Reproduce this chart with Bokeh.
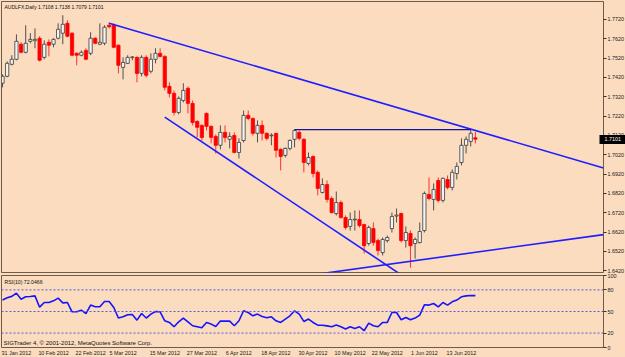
from bokeh.plotting import figure
from bokeh.layouts import column
from bokeh.models import (ColumnDataSource, FixedTicker, Range1d, Label, Span,
                          NumeralTickFormatter, LinearAxis)
from bokeh.embed import file_html
from bokeh.resources import INLINE

# ---------------- data ----------------
symbol_title = "AUDLFX,Daily  1.7108 1.7138 1.7079 1.7101"
rsi_title = "RSI(10) 72.0466"
copyright_text = "SIGTrader 4, \u00a9 2001-2012, MetaQuotes Software Corp."
last_price = 1.7101

opens = [1.7390, 1.7426, 1.7488, 1.7514, 1.7592, 1.7550, 1.7607, 1.7610, 1.7623, 1.7524,
         1.7602, 1.7592, 1.7623, 1.7649, 1.7700, 1.7649, 1.7545, 1.7535, 1.7560, 1.7545,
         1.7623, 1.7592, 1.7597, 1.7690, 1.7690, 1.7587, 1.7472, 1.7493, 1.7524, 1.7524,
         1.7441, 1.7524, 1.7452, 1.7514, 1.7545, 1.7529, 1.7374, 1.7338, 1.7239, 1.7301,
         1.7364, 1.7286, 1.7193, 1.7172, 1.7234, 1.7167, 1.7115, 1.7069, 1.7136, 1.7100,
         1.7120, 1.7032, 1.7094, 1.7224, 1.7208, 1.7131, 1.7172, 1.7131, 1.7118, 1.7131,
         1.7048, 1.7017, 1.7053, 1.7100, 1.7136, 1.7100, 1.6975, 1.7011, 1.6929, 1.6825,
         1.6866, 1.6794, 1.6716, 1.6773, 1.6695, 1.6649, 1.6683, 1.6685, 1.6659, 1.6561,
         1.6638, 1.6576, 1.6514, 1.6576, 1.6638, 1.6703, 1.6716, 1.6576, 1.6613, 1.6561,
         1.6566, 1.6628, 1.6815, 1.6789, 1.6887, 1.6784, 1.6892, 1.6851, 1.6923, 1.6980,
         1.7069, 1.7089, 1.7108]
highs = [1.7436, 1.7503, 1.7535, 1.7643, 1.7602, 1.7690, 1.7649, 1.7674, 1.7633, 1.7612,
         1.7617, 1.7623, 1.7700, 1.7742, 1.7716, 1.7654, 1.7550, 1.7560, 1.7571, 1.7654,
         1.7628, 1.7700, 1.7690, 1.7705, 1.7700, 1.7590, 1.7524, 1.7535, 1.7529, 1.7529,
         1.7535, 1.7535, 1.7545, 1.7571, 1.7571, 1.7535, 1.7395, 1.7353, 1.7322, 1.7390,
         1.7374, 1.7301, 1.7198, 1.7177, 1.7239, 1.7172, 1.7125, 1.7172, 1.7172, 1.7136,
         1.7136, 1.7105, 1.7249, 1.7249, 1.7213, 1.7198, 1.7198, 1.7136, 1.7131, 1.7131,
         1.7053, 1.7058, 1.7100, 1.7152, 1.7146, 1.7105, 1.7032, 1.7017, 1.6939, 1.6898,
         1.6887, 1.6805, 1.6830, 1.6784, 1.6706, 1.6721, 1.6732, 1.6732, 1.6664, 1.6654,
         1.6670, 1.6587, 1.6592, 1.6602, 1.6721, 1.6742, 1.6721, 1.6649, 1.6628, 1.6592,
         1.6670, 1.6830, 1.6903, 1.6872, 1.6903, 1.6903, 1.6913, 1.6944, 1.6980, 1.7105,
         1.7115, 1.7152, 1.7138]
lows = [1.7369, 1.7421, 1.7483, 1.7509, 1.7545, 1.7545, 1.7597, 1.7571, 1.7503, 1.7514,
        1.7529, 1.7576, 1.7617, 1.7592, 1.7628, 1.7529, 1.7483, 1.7529, 1.7509, 1.7535,
        1.7592, 1.7587, 1.7587, 1.7674, 1.7571, 1.7441, 1.7410, 1.7490, 1.7509, 1.7395,
        1.7426, 1.7420, 1.7441, 1.7493, 1.7524, 1.7353, 1.7317, 1.7224, 1.7229, 1.7291,
        1.7234, 1.7172, 1.7110, 1.7094, 1.7146, 1.7079, 1.7027, 1.7048, 1.7084, 1.7053,
        1.7027, 1.7001, 1.7084, 1.7198, 1.7120, 1.7084, 1.7094, 1.7094, 1.7069, 1.7006,
        1.6939, 1.7006, 1.7043, 1.7058, 1.7094, 1.6929, 1.6965, 1.6903, 1.6810, 1.6820,
        1.6773, 1.6716, 1.6706, 1.6690, 1.6633, 1.6628, 1.6628, 1.6644, 1.6509, 1.6550,
        1.6550, 1.6499, 1.6499, 1.6566, 1.6618, 1.6670, 1.6566, 1.6540, 1.6436, 1.6483,
        1.6561, 1.6618, 1.6784, 1.6732, 1.6773, 1.6773, 1.6841, 1.6836, 1.6892, 1.6965,
        1.7027, 1.7063, 1.7079]
closes = [1.7426, 1.7493, 1.7514, 1.7607, 1.7550, 1.7597, 1.7617, 1.7617, 1.7509, 1.7592,
          1.7587, 1.7617, 1.7669, 1.7695, 1.7633, 1.7535, 1.7535, 1.7550, 1.7514, 1.7623,
          1.7597, 1.7602, 1.7680, 1.7682, 1.7576, 1.7483, 1.7498, 1.7524, 1.7526, 1.7441,
          1.7524, 1.7431, 1.7514, 1.7545, 1.7529, 1.7369, 1.7338, 1.7239, 1.7312, 1.7353,
          1.7286, 1.7187, 1.7162, 1.7110, 1.7167, 1.7110, 1.7069, 1.7136, 1.7110, 1.7115,
          1.7032, 1.7084, 1.7224, 1.7208, 1.7131, 1.7172, 1.7131, 1.7105, 1.7122, 1.7043,
          1.7011, 1.7053, 1.7094, 1.7146, 1.7105, 1.6980, 1.7006, 1.6923, 1.6846, 1.6866,
          1.6789, 1.6721, 1.6773, 1.6695, 1.6644, 1.6685, 1.6687, 1.6654, 1.6550, 1.6644,
          1.6566, 1.6525, 1.6582, 1.6592, 1.6701, 1.6708, 1.6576, 1.6618, 1.6550, 1.6582,
          1.6623, 1.6820, 1.6794, 1.6841, 1.6784, 1.6898, 1.6851, 1.6929, 1.6960, 1.7069,
          1.7100, 1.7131, 1.7101]
rsi_values = [66, 69, 71, 75.5, 67, 70.4, 70.8, 71.7, 56, 62.5,
              62.5, 64.8, 68.5, 62, 62.5, 49.6, 49.6, 51.9, 47.2, 58.9,
              56.5, 56.5, 63.9, 63.9, 55.5, 40.9, 42.6, 45.4, 45.8, 38,
              47.2, 40.9, 46.4, 50, 49.6, 37.1, 34.8, 28.8, 35.7, 40.9,
              35.7, 30.2, 28.8, 27.4, 34.8, 32.5, 29.2, 36.7, 36.7, 36.7,
              30.2, 37.1, 51, 48.6, 44, 46.4, 43.1, 41.3, 42.6, 37.1,
              34.8, 39.5, 44, 51, 46.4, 36.2, 39.5, 34.8, 31, 31,
              30, 28.8, 31.2, 28.8, 25.6, 28.8, 26.5, 28.8, 23.3, 33.9,
              30.2, 28.8, 34.8, 34.8, 48.6, 48.6, 38.5, 41.7, 38.5, 40.9,
              45, 59.3, 58.9, 61.1, 56.5, 62.5, 58.9, 63.4, 65.8, 70.4,
              71.7, 72.2, 72.05]

date_labels = ["31 Jan 2012", "10 Feb 2012", "22 Feb 2012", "5 Mar 2012", "15 Mar 2012",
               "27 Mar 2012", "6 Apr 2012", "18 Apr 2012", "30 Apr 2012", "10 May 2012",
               "22 May 2012", "1 Jun 2012", "13 Jun 2012"]
date_bars = [0, 8, 16, 23, 32, 40, 48, 56, 64, 72, 80, 88, 96]
price_ticks = [1.6420, 1.6520, 1.6620, 1.6720, 1.6820, 1.6920, 1.7020,
               1.7120, 1.7220, 1.7320, 1.7420, 1.7520, 1.7620, 1.7720]
rsi_ticks = [0, 20, 50, 80, 100]
rsi_levels = [20, 50, 80]

# trend lines: anchor (bar, price) pairs
upper_trend = ([23, 101], [1.7700, 1.7153])   # ray to the right
lower_trend = ([35, 85], [1.7215, 1.6415])    # ray down-right
support_trend = ([69, 129], [1.6406, 1.6605])  # ray both sides
resistance = ([63, 101], [1.7150, 1.7150])

# ---------------- style ----------------
BG = "#FBDCBE"
FRAME = "#6f5b4a"
FONT = "Liberation Sans"
X0, X1 = -0.22, 129.64
n = len(closes)
xs = list(range(n))

bull = [c >= o for o, c in zip(opens, closes)]
src = ColumnDataSource(dict(
    x=xs, o=opens, h=highs, l=lows, c=closes,
    top=[max(o, c) for o, c in zip(opens, closes)],
    bottom=[min(o, c) for o, c in zip(opens, closes)],
    fill=["#F4F4F4" if b else "#FF0000" for b in bull],
    line=["#3A3A3A" if b else "#FF0000" for b in bull],
    wick=["#505050" if b else "#FF3030" for b in bull],
))

p = figure(frame_width=602, frame_height=271, x_range=Range1d(X0, X1),
           y_range=Range1d(1.6411, 1.7813), output_backend="svg", toolbar_location=None,
           x_axis_location=None, y_axis_location="right",
           min_border_left=1, min_border_top=1, min_border_bottom=1, min_border_right=0)
p.background_fill_color = BG
p.border_fill_color = BG
p.outline_line_color = FRAME
p.outline_line_width = 1
p.grid.visible = False

yax = p.yaxis[0]
yax.ticker = FixedTicker(ticks=price_ticks)
yax.formatter = NumeralTickFormatter(format="0.0000")
yax.axis_line_color = None
yax.major_tick_out = 3
yax.major_tick_in = 0
yax.minor_tick_line_color = None
yax.major_tick_line_color = "#303030"
yax.major_label_standoff = 1
yax.major_label_text_font = FONT
yax.major_label_text_font_size = "5.4px"
yax.major_label_text_color = "#202020"

# current-price marker: an outer axis whose single tick is drawn as a black box
pax = LinearAxis(ticker=FixedTicker(ticks=[last_price]),
                 formatter=NumeralTickFormatter(format="0.0000"),
                 axis_line_color=None, major_tick_in=27, major_tick_out=0,
                 major_tick_line_width=9, major_tick_line_color="black",
                 major_tick_line_cap="butt", minor_tick_line_color=None,
                 major_label_standoff=-22, major_label_text_color="white",
                 major_label_text_font=FONT, major_label_text_font_size="5.4px")
p.add_layout(pax, "right")

p.segment(x0="x", y0="l", x1="x", y1="h", line_color="wick", line_width=1, source=src)
p.vbar(x="x", width=0.7, top="top", bottom="bottom", fill_color="fill",
       line_color="line", line_width=0.8, source=src)


def extend(pts, x_from, x_to):
    (xa, xb), (ya, yb) = pts
    k = (yb - ya) / (xb - xa)
    return [x_from, x_to], [ya + k * (x_from - xa), ya + k * (x_to - xa)]


ux, uy = extend(upper_trend, upper_trend[0][0], X1)
p.line(ux, uy, line_color="#1E1EFF", line_width=1.6)
lx, ly = extend(lower_trend, lower_trend[0][0], 88)
p.line(lx, ly, line_color="#1E1EFF", line_width=1.6)
sx, sy = extend(support_trend, 60, X1)
p.line(sx, sy, line_color="#1E1EFF", line_width=1.6)
p.line(resistance[0], resistance[1], line_color="#14149A", line_width=1.4)

p.add_layout(Label(x=X0, y=1.7813, x_offset=3, y_offset=-2.5, text=symbol_title,
                   text_baseline="top", text_font=FONT, text_font_size="5px",
                   text_color="#101010"))

# ---------------- RSI panel ----------------
r = figure(frame_width=602, frame_height=72, x_range=p.x_range, y_range=Range1d(0, 100),
           output_backend="svg", toolbar_location=None, y_axis_location="right",
           min_border_left=1, min_border_top=2, min_border_bottom=0, min_border_right=0)
r.background_fill_color = BG
r.border_fill_color = BG
r.outline_line_color = FRAME
r.grid.visible = False

for lv in rsi_levels:
    r.add_layout(Span(location=lv, dimension="width", line_color="#5A5AD8",
                      line_dash="2 2", line_width=1))
r.line(xs, rsi_values, line_color="#1414FF", line_width=1.6)

ry = r.yaxis[0]
ry.ticker = FixedTicker(ticks=rsi_ticks)
ry.axis_line_color = None
ry.major_tick_out = 3
ry.major_tick_in = 0
ry.minor_tick_line_color = None
ry.major_tick_line_color = "#303030"
ry.major_label_standoff = 1
ry.major_label_text_font = FONT
ry.major_label_text_font_size = "5.4px"
ry.major_label_text_color = "#202020"

label_center = 3
rx = r.xaxis[0]
rx.ticker = FixedTicker(ticks=[b + label_center for b in date_bars])
rx.major_label_overrides = {b + label_center: t for b, t in zip(date_bars, date_labels)}
rx.axis_line_color = None
rx.major_tick_out = 0
rx.major_tick_in = 0
rx.minor_tick_line_color = None
rx.major_label_standoff = 2
rx.major_label_text_font = FONT
rx.major_label_text_font_size = "5.4px"
rx.major_label_text_color = "#202020"

r.add_layout(Label(x=X0, y=100, x_offset=3, y_offset=-3, text=rsi_title,
                   text_baseline="top", text_font=FONT, text_font_size="5.2px",
                   text_color="#101010"))
r.add_layout(Label(x=X0, y=0, x_offset=2, y_offset=2, text=copyright_text,
                   text_baseline="bottom", text_font=FONT, text_font_size="6px",
                   text_color="#101010"))

layout = column(p, r, spacing=0, styles={"background-color": BG})
open("out.html", "w").write(file_html(layout, INLINE))
